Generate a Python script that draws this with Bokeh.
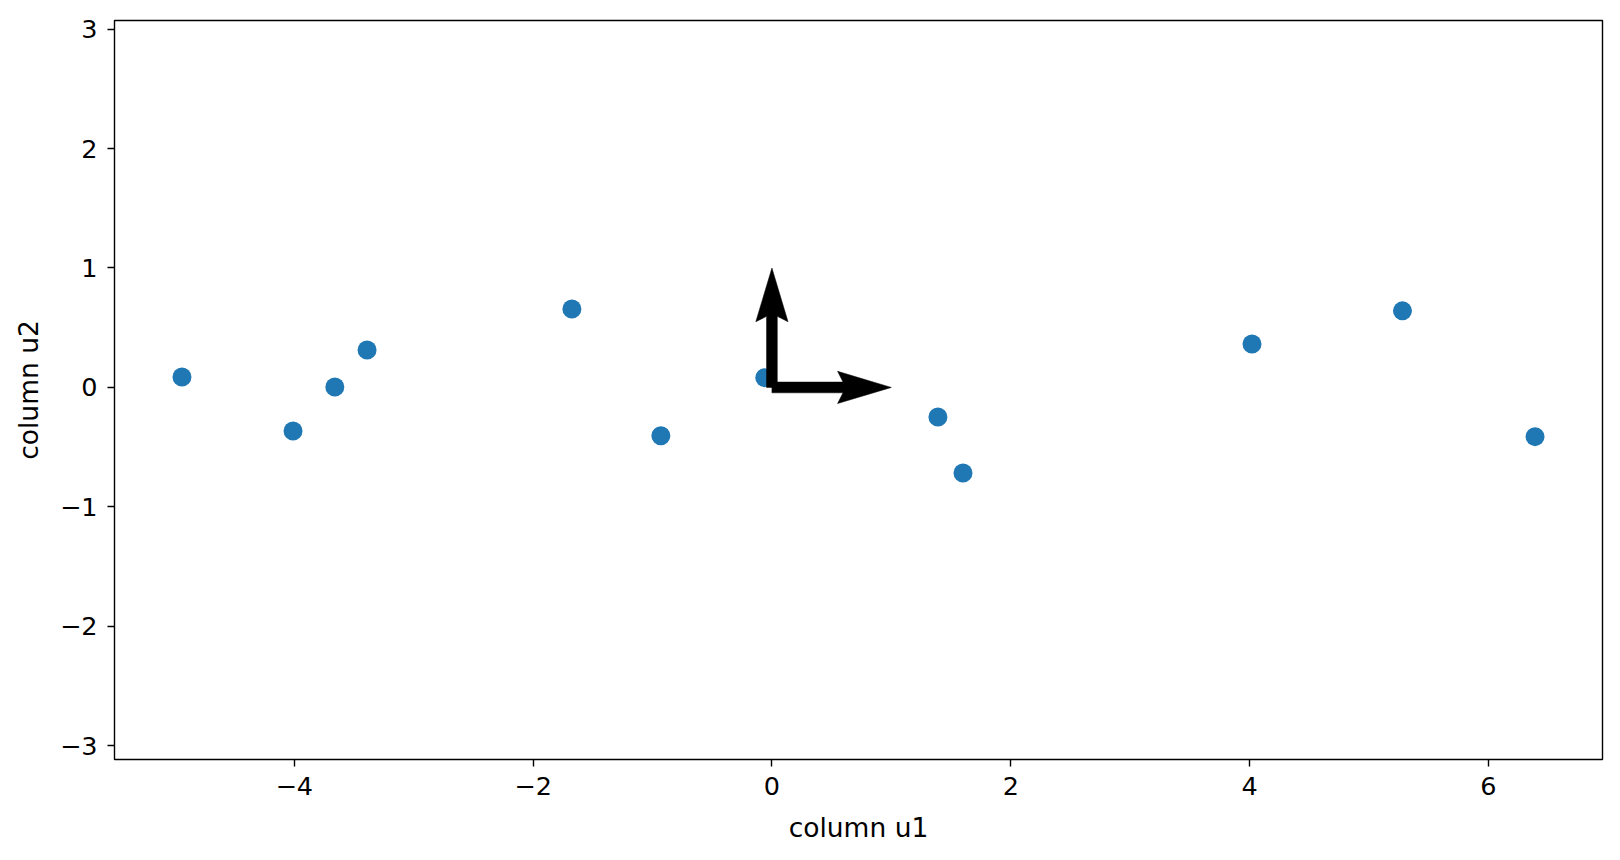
from bokeh.plotting import figure
from bokeh.models import Range1d, FixedTicker, CustomJSTickFormatter
from bokeh.embed import file_html
from bokeh.resources import INLINE

# data
u1 = [-4.94, -4.01, -3.66, -3.39, -1.675, -0.93, -0.06, 1.39, 1.60, 4.02, 5.28, 6.39]
u2 = [0.088, -0.364, 0.004, 0.314, 0.657, -0.404, 0.082, -0.247, -0.716, 0.364, 0.641, -0.412]

# basis vectors (quiver)
vec_x0 = [0.0, 0.0]
vec_y0 = [0.0, 0.0]
vec_u = [1.0, 0.0]
vec_v = [0.0, 1.0]

x_ticks = [-4, -2, 0, 2, 4, 6]
y_ticks = [-3, -2, -1, 0, 1, 2, 3]

FONT = "DejaVu Sans"

p = figure(output_backend="svg", toolbar_location=None,
           frame_width=1488, frame_height=739,
           min_border_left=114, min_border_right=10,
           min_border_top=20, min_border_bottom=93,
           x_range=Range1d(-5.505, 6.955), y_range=Range1d(-3.115, 3.072))
p.background_fill_color = "white"
p.border_fill_color = "white"
p.grid.visible = False
p.outline_line_color = "black"
p.outline_line_width = 1.4
p.outline_line_alpha = 1.0

fmt = CustomJSTickFormatter(code="return String(tick).replace('-', '\\u2212');")
for ax, ticks in ((p.xaxis[0], x_ticks), (p.yaxis[0], y_ticks)):
    ax.ticker = FixedTicker(ticks=ticks)
    ax.formatter = fmt
    ax.axis_line_color = None
    ax.major_tick_in = 0
    ax.major_tick_out = 7
    ax.major_tick_line_width = 1.4
    ax.major_tick_line_color = "black"
    ax.minor_tick_line_color = None
    ax.major_label_text_font = FONT
    ax.major_label_text_font_size = "25.5px"
    ax.major_label_text_color = "black"
    ax.axis_label_text_font = FONT
    ax.axis_label_text_font_size = "26.5px"
    ax.axis_label_text_font_style = "normal"
    ax.axis_label_text_color = "black"

p.xaxis.axis_label = "column u1"
p.yaxis.axis_label = "column u2"
p.xaxis.major_label_standoff = 10
p.yaxis.major_label_standoff = 10
p.xaxis.axis_label_standoff = 14
p.yaxis.axis_label_standoff = 13

p.scatter(u1, u2, size=19, fill_color="#1f77b4", line_color="#1f77b4", line_width=0)

# quiver arrows as polygons (shaft width w, head width 3w, head length 5w, head axis 4.5w)
w = 0.09
xs, ys = [], []
for x0, y0, du, dv in zip(vec_x0, vec_y0, vec_u, vec_v):
    L = (du ** 2 + dv ** 2) ** 0.5
    dx, dy = du / L, dv / L
    nx, ny = -dy, dx
    pts = [(0, -w / 2), (L - 4.5 * w, -w / 2), (L - 5 * w, -1.5 * w), (L, 0),
           (L - 5 * w, 1.5 * w), (L - 4.5 * w, w / 2), (0, w / 2)]
    xs.append([x0 + a * dx + b * nx for a, b in pts])
    ys.append([y0 + a * dy + b * ny for a, b in pts])
p.patches(xs, ys, fill_color="black", line_color="black", line_width=0.5)

open("out.html", "w").write(file_html(p, INLINE))
